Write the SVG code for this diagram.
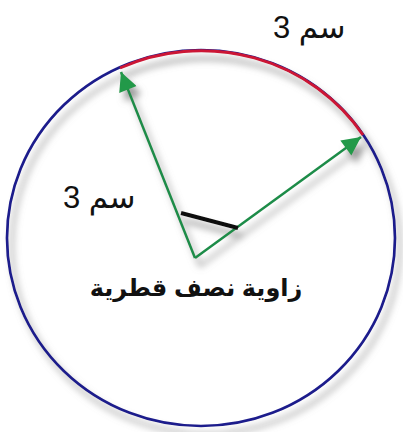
<svg xmlns="http://www.w3.org/2000/svg" width="403" height="432" viewBox="0 0 403 432">
<defs>
<filter id="sh" x="-20%" y="-20%" width="140%" height="140%">
<feDropShadow dx="5" dy="8" stdDeviation="3.5" flood-color="#808080" flood-opacity="0.8"/>
</filter>
<marker id="ah" viewBox="0 0 10 10" refX="10" refY="5" markerWidth="9" markerHeight="7.5" markerUnits="strokeWidth" orient="auto">
<path d="M0,0 L10,5 L0,10 Z" fill="#22994a"/>
</marker>
<style>
.circ{fill:none;stroke:#1c1c8c;stroke-width:2.7}
.arc{fill:none;stroke:#cc1436;stroke-width:3}
.ray{fill:none;stroke:#1f8c48;stroke-width:2.5}
.ang{fill:none;stroke:#111111;stroke-width:4}
.t{font-family:"Liberation Sans","DejaVu Sans",sans-serif;fill:#111111}
</style>
</defs>
<rect width="403" height="432" fill="#ffffff"/>
<g id="circle" filter="url(#sh)">
<ellipse class="circ" cx="201" cy="238" rx="194" ry="188"/>
<path class="arc" d="M120,68 A194,188 0 0 1 363,135"/>
</g>
<g id="connectors" filter="url(#sh)">
<line class="ray" x1="195" y1="258" x2="121" y2="72" marker-end="url(#ah)"/>
<line class="ray" x1="195" y1="258" x2="361" y2="137" marker-end="url(#ah)"/>
<line class="ang" x1="181" y1="213" x2="238" y2="228"/>
</g>
<g id="label-arc"><text class="t" x="273" y="38" font-size="31">3 سم</text></g>
<g id="label-radius"><text class="t" x="63" y="208" font-size="31">3 سم</text></g>
<g id="label-angle"><text class="t" x="196" y="296" font-size="24" font-weight="bold" text-anchor="middle">زاوية نصف قطرية</text></g>
</svg>
